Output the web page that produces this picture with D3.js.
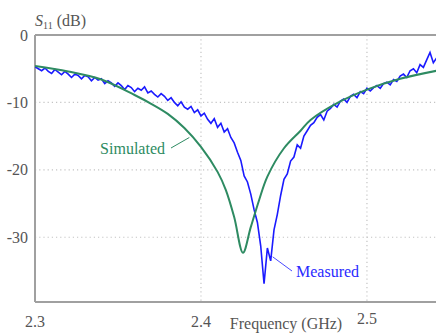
<!DOCTYPE html>
<html>
<head>
<meta charset="utf-8">
<script src="https://cdn.jsdelivr.net/npm/d3@7"></script>
<style>
  body { margin: 0; background: #fff; }
  text { font-family: "Liberation Serif", "DejaVu Serif", serif; }
</style>
</head>
<body>
<div id="chart"></div>
<script>
// Simulated S11 (smooth curve)
const simFreq = [2.300, 2.320, 2.340, 2.360, 2.370, 2.380, 2.390, 2.400, 2.410, 2.415, 2.420, 2.4253, 2.430, 2.435, 2.440, 2.450, 2.460, 2.466, 2.482, 2.500, 2.520, 2.542];
const simDb   = [-4.6, -5.4, -6.6, -8.9, -10.2, -11.7, -13.8, -16.6, -20.3, -23.0, -27.0, -32.3, -28.5, -24.5, -21.0, -16.8, -14.2, -12.6, -10.1, -8.1, -6.5, -5.3];

// Measured S11, sampled every 2 MHz from 2.300 GHz
const measStart = 2.300;
const measStep = 0.002;
const measDb = [
  -4.7, -5.0, -5.3, -4.9, -5.4, -5.7, -5.1, -5.5, -5.9, -5.4,
  -5.8, -6.3, -5.8, -6.0, -6.5, -6.0, -6.2, -6.8, -6.3, -6.7,
  -6.5, -7.2, -6.8, -7.1, -7.6, -7.1, -7.5, -8.1, -7.5, -7.8,
  -8.4, -7.9, -8.2, -7.7, -8.6, -8.3, -8.8, -9.2, -8.7, -9.1,
  -9.7, -9.3, -10.0, -10.5, -9.9, -10.7, -11.0, -10.6, -11.5, -11.1,
  -12.0, -11.6, -12.5, -13.1, -12.4, -13.7, -13.1, -14.4, -13.9, -15.2,
  -16.0, -17.4, -18.6, -20.9, -21.8, -23.6, -25.9, -27.8, -31.3, -36.9,
  -31.6, -33.5, -28.9, -26.6, -23.8, -21.4, -20.6, -18.7, -18.1, -16.3,
  -16.8, -15.0, -14.2, -13.4, -13.0, -12.2, -11.8, -12.6, -11.3, -10.9,
  -10.3, -10.7, -9.8, -9.5, -10.0, -9.1, -8.8, -9.3, -8.4, -8.7,
  -7.9, -8.3, -7.8, -7.5, -7.9, -7.2, -7.0, -7.4, -6.6, -6.9,
  -6.1, -5.8, -6.3, -5.3, -5.0, -5.6, -4.4, -4.8, -3.7, -2.6,
  -4.1, -3.4
];
const measFreq = measDb.map((_, i) => measStart + i * measStep);

const xTicks = [2.3, 2.4, 2.5];
const yTicks = [0, -10, -20, -30];

const width = 436, height = 335;
const margin = { left: 35, top: 35, right: 0, bottom: 33 };

const svg = d3.select('#chart').append('svg')
  .attr('width', width)
  .attr('height', height);

const x = d3.scaleLinear().domain([2.3, 2.5416]).range([margin.left, width - margin.right]);
const y = d3.scaleLinear().domain([-39.6, 0]).range([height - margin.bottom, margin.top]);

svg.append('defs').append('clipPath').attr('id', 'plot')
  .append('rect')
  .attr('x', margin.left).attr('y', margin.top)
  .attr('width', width - margin.left - margin.right)
  .attr('height', height - margin.top - margin.bottom);

// grid
svg.append('g').selectAll('line')
  .data(yTicks.filter(d => d !== 0))
  .enter().append('line')
  .attr('x1', margin.left).attr('x2', width)
  .attr('y1', d => y(d)).attr('y2', d => y(d))
  .style('stroke', '#c4c4c4').style('stroke-width', 1.2)
  .style('stroke-dasharray', '1.2,3');
svg.append('g').selectAll('line')
  .data(xTicks.filter(d => d !== 2.3))
  .enter().append('line')
  .attr('x1', d => x(d)).attr('x2', d => x(d))
  .attr('y1', margin.top).attr('y2', y(-39.6))
  .style('stroke', '#c4c4c4').style('stroke-width', 1.2)
  .style('stroke-dasharray', '1.2,3');

// frame
const frame = svg.append('g').style('stroke', '#a0a0a0').style('stroke-width', 2).style('fill', 'none');
frame.append('line').attr('x1', margin.left).attr('x2', width).attr('y1', y(0)).attr('y2', y(0));
frame.append('line').attr('x1', margin.left).attr('x2', margin.left).attr('y1', y(0)).attr('y2', y(-39.6));
frame.append('line').attr('x1', margin.left).attr('x2', width).attr('y1', y(-39.6)).attr('y2', y(-39.6));

// curves
const simLine = d3.line()
  .x((d, i) => x(simFreq[i]))
  .y(d => y(d))
  .curve(d3.curveCatmullRom.alpha(0.5));
const measLine = d3.line()
  .x((d, i) => x(measFreq[i]))
  .y(d => y(d));

const curves = svg.append('g').attr('clip-path', 'url(#plot)');
curves.append('path')
  .attr('d', measLine(measDb))
  .style('fill', 'none').style('stroke', '#1a1aff').style('stroke-width', 1.6);
curves.append('path')
  .attr('d', simLine(simDb))
  .style('fill', 'none').style('stroke', '#2e8b62').style('stroke-width', 2);

// tick labels
svg.append('g').selectAll('text')
  .data(yTicks)
  .enter().append('text')
  .attr('x', 28).attr('y', d => y(d))
  .attr('dy', '0.35em')
  .attr('text-anchor', 'end')
  .style('font-size', '16px').style('fill', '#555')
  .text(d => d);
svg.append('g').selectAll('text')
  .data(xTicks)
  .enter().append('text')
  .attr('x', d => x(d)).attr('y', d => d === 2.5 ? 324 : 327)
  .attr('text-anchor', 'middle')
  .style('font-size', '16px').style('fill', '#555')
  .text(d => d.toFixed(1));

// axis titles
svg.append('text')
  .attr('x', 286).attr('y', 329)
  .attr('text-anchor', 'middle')
  .style('font-size', '16px').style('fill', '#555')
  .text('Frequency (GHz)');
const yt = svg.append('text')
  .attr('x', 35).attr('y', 26)
  .style('font-size', '16px').style('fill', '#555');
yt.append('tspan').style('font-style', 'italic').text('S');
yt.append('tspan').attr('dy', 3).style('font-size', '10px').text('11');
yt.append('tspan').attr('dy', -3).text(' (dB)');

// annotations
svg.append('line')
  .attr('x1', 171).attr('y1', 148).attr('x2', x(2.393)).attr('y2', y(-15.2))
  .style('stroke', '#2e8b62').style('stroke-width', 1);
svg.append('text')
  .attr('x', 165).attr('y', 148).attr('dy', '0.35em')
  .attr('text-anchor', 'end')
  .style('font-size', '16px').style('fill', '#2e8b62')
  .text('Simulated');
svg.append('line')
  .attr('x1', x(2.4432)).attr('y1', y(-32.9)).attr('x2', 292).attr('y2', 271)
  .style('stroke', '#4a4aff').style('stroke-width', 1);
svg.append('text')
  .attr('x', 296).attr('y', 271).attr('dy', '0.35em')
  .style('font-size', '16px').style('fill', '#2a2aff')
  .text('Measured');
</script>
</body>
</html>
